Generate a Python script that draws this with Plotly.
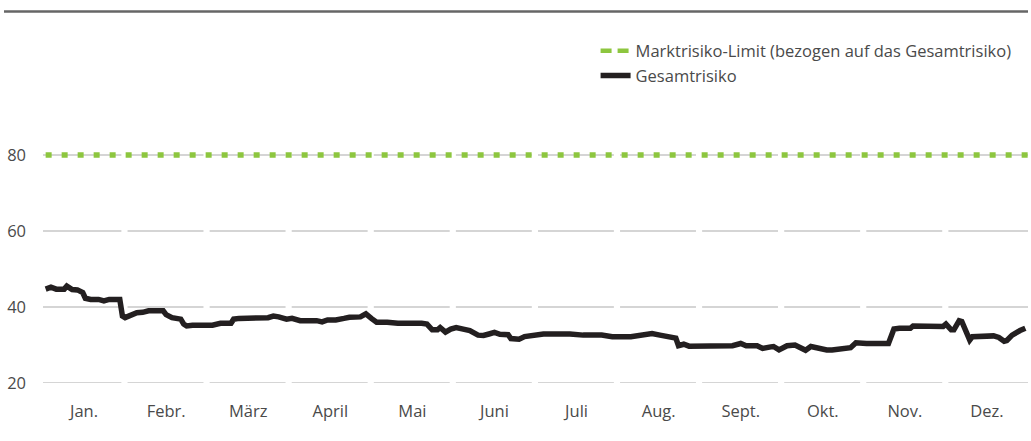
import calendar
import plotly.graph_objects as go

# ---- data ----
months = ["Jan.", "Febr.", "März", "April", "Mai", "Juni", "Juli", "Aug.", "Sept.", "Okt.", "Nov.", "Dez."]
y_ticks = [20, 40, 60, 80]

dates = [
    "01-02", "01-04", "01-06", "01-09", "01-10", "01-12", "01-14", "01-16", "01-17", "01-19",
    "01-22", "01-24", "01-26", "01-28", "01-29", "01-30", "01-31", "02-01", "02-03", "02-05",
    "02-07", "02-09", "02-14", "02-15", "02-17", "02-20", "02-21", "02-22", "02-24", "03-03",
    "03-06", "03-10", "03-11", "03-13", "03-24", "03-26", "03-28", "03-31", "04-02", "04-05",
    "04-11", "04-13", "04-15", "04-18", "04-21", "04-23", "04-27", "04-29", "05-01", "05-03",
    "05-07", "05-11", "05-20", "05-22", "05-24", "05-26", "05-27", "05-29", "05-31", "06-02",
    "06-05", "06-07", "06-10", "06-12", "06-14", "06-16", "06-18", "06-21", "06-22", "06-25",
    "06-27", "06-30", "07-04", "07-14", "07-19", "07-26", "07-30", "08-06", "08-09", "08-14",
    "08-17", "08-21", "08-23", "08-24", "08-26", "08-28", "09-02", "09-04", "09-06", "09-13",
    "09-16", "09-18", "09-22", "09-24", "09-27", "09-28", "09-30", "10-03", "10-06", "10-09",
    "10-10", "10-12", "10-15", "10-18", "10-20", "10-24", "10-27", "10-29", "11-02", "11-10",
    "11-12", "11-14", "11-18", "11-19", "11-30", "12-01", "12-03", "12-04", "12-06", "12-07",
    "12-10", "12-11", "12-19", "12-21", "12-23", "12-24", "12-26", "12-29", "12-31",
]
gesamtrisiko = [
    44.7, 45.2, 44.7, 44.7, 45.5, 44.6, 44.5, 43.8, 42.3, 42.0,
    42.0, 41.6, 42.0, 42.2, 42.0, 42.0, 37.6, 37.2, 37.9, 38.5,
    38.6, 39.0, 39.0, 38.0, 37.2, 36.8, 35.5, 35.0, 35.2, 35.2,
    35.7, 35.7, 36.8, 37.0, 37.2, 37.6, 37.4, 36.8, 37.0, 36.4,
    36.4, 36.1, 36.6, 36.6, 37.0, 37.3, 37.4, 38.2, 37.0, 36.0,
    36.0, 35.7, 35.7, 35.5, 34.0, 34.0, 34.6, 33.4, 34.2, 34.6,
    34.1, 33.8, 32.6, 32.5, 32.9, 33.3, 32.8, 32.7, 31.7, 31.5,
    32.2, 32.6, 32.9, 32.9, 32.6, 32.6, 32.2, 32.2, 32.4, 33.0,
    32.6, 32.0, 31.8, 29.8, 30.2, 29.7, 29.7, 30.0, 29.8, 29.8,
    30.4, 29.8, 29.8, 29.1, 29.5, 29.6, 28.7, 29.8, 30.0, 28.9,
    28.6, 29.6, 29.1, 28.7, 28.7, 29.1, 29.3, 30.6, 30.4, 30.4,
    34.2, 34.4, 34.4, 35.0, 34.9, 35.5, 34.0, 34.0, 36.4, 36.2,
    31.3, 32.2, 32.4, 32.0, 31.0, 31.2, 32.6, 33.8, 34.4,
]
limit_dates = ["01-02", "12-31"]
limit_values = [80, 80]
limit_name = "Marktrisiko-Limit (bezogen auf das Gesamtrisiko)"
risk_name = "Gesamtrisiko"

YEAR = 2023


def month_pos(md):
    m, d = (int(v) for v in md.split("-"))
    dim = calendar.monthrange(YEAR, m)[1]
    return (m - 1) + (d - 1) / dim


x_risk = [month_pos(d) for d in dates]
x_limit = [month_pos(d) for d in limit_dates]
x_limit[-1] = 12.0

TEXT = "#4a4a4a"
FONT = "Open Sans, Liberation Sans, Arial, sans-serif"
GREEN = "#8dc63f"
FS = 16.5

fig = go.Figure()
fig.add_trace(go.Scatter(
    x=x_limit, y=limit_values, mode="lines", name=limit_name,
    line=dict(color=GREEN, width=5.5, dash="6px,10px"),
    legendgroup="limit", showlegend=False, hoverinfo="skip",
))
# legend entry for the limit line (legend symbol uses longer dashes as in the original)
fig.add_trace(go.Scatter(
    x=[None], y=[None], mode="lines", name=limit_name,
    line=dict(color=GREEN, width=4.5, dash="11px,6px"),
    legendgroup="limit", legend="legend",
))
fig.add_trace(go.Scatter(
    x=x_risk, y=gesamtrisiko, mode="lines", name=risk_name,
    line=dict(color="#231f20", width=5.5),
    legend="legend2",
))

# segmented horizontal gridlines (one segment per month)
shapes = []
for yv in y_ticks:
    for i in range(len(months)):
        x0 = i + (0.0 if i == 0 else 0.03)
        x1 = i + (1.0 if i == len(months) - 1 else 0.955)
        shapes.append(dict(type="line", xref="x", yref="y", x0=x0, x1=x1, y0=yv, y1=yv,
                           line=dict(color="#ababab", width=1.2), layer="below"))
# top rule
shapes.append(dict(type="line", xref="paper", yref="paper", x0=-0.0396, x1=1.0,
                   y0=1.222, y1=1.222, line=dict(color="#666666", width=2.5)))

fig.update_layout(
    width=1031, height=441,
    margin=dict(l=43, r=3, t=79, b=58),
    paper_bgcolor="white", plot_bgcolor="white",
    font=dict(family=FONT, size=FS, color=TEXT),
    shapes=shapes,
    showlegend=True,
    legend=dict(x=0.561, y=1.150, xanchor="left", yanchor="top", itemwidth=30,
                bgcolor="rgba(0,0,0,0)", borderwidth=0, font=dict(size=FS, color=TEXT)),
    legend2=dict(x=0.561, y=1.068, xanchor="left", yanchor="top", itemwidth=30,
                 bgcolor="rgba(0,0,0,0)", borderwidth=0, font=dict(size=FS, color=TEXT)),
    xaxis=dict(range=[0, 12], tickvals=[i + 0.5 for i in range(12)], ticktext=months,
               showgrid=False, zeroline=False, showline=False, ticks="",
               ticklabelstandoff=16, tickfont=dict(size=FS, color=TEXT), fixedrange=True),
    yaxis=dict(range=[20, 100], tickvals=y_ticks, ticktext=[str(v) for v in y_ticks],
               showgrid=False, zeroline=False, showline=False, ticks="",
               ticklabelstandoff=16, tickfont=dict(size=FS, color=TEXT), fixedrange=True),
)

fig.write_html("out.html", config={"displayModeBar": False},
               post_script="document.body.style.margin='0';")
